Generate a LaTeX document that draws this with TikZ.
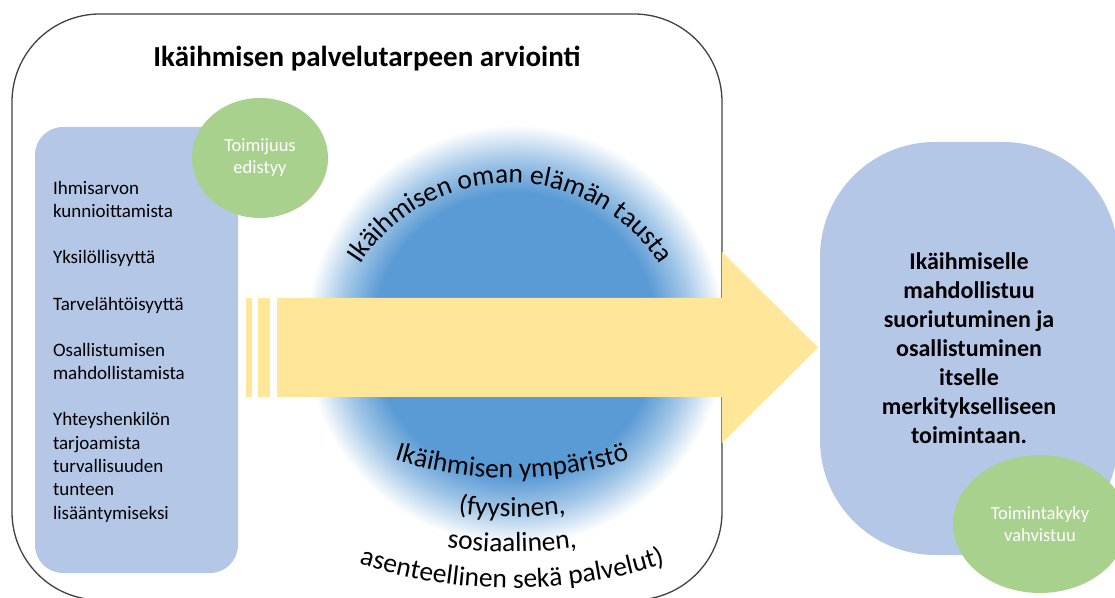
\documentclass[tikz,border=0pt]{standalone}
\usepackage{fontspec}
\setmainfont{Carlito}
\usepackage{tikz}
\usetikzlibrary{shapes.geometric,decorations.text,positioning}
\definecolor{boxblue}{HTML}{B4C7E7}
\definecolor{leafgreen}{HTML}{A9D18E}
\definecolor{discblue}{HTML}{5B9BD5}
\definecolor{arrowyellow}{HTML}{FFE699}
\pgfdeclareradialshading{bluedisc}{\pgfpoint{0bp}{0bp}}{color(0bp)=(discblue); color(17bp)=(discblue); color(21bp)=(discblue!55!white); color(25bp)=(white); color(50bp)=(white)}
\newcommand\arcfont{\fontsize{27.5}{30}\selectfont}

\begin{document}
\begin{tikzpicture}[x=1pt,y=1pt,
	bigbox/.style={draw=black!75, line width=1.3pt, rounded corners=88, minimum width=710, minimum height=586, inner sep=0},
	softbox/.style={fill=boxblue, rounded corners=#1, inner sep=0},
	leaf/.style={ellipse, fill=leafgreen, text=white, inner sep=0, align=center, font=\fontsize{18.5}{22}\selectfont},
	toparc/.style={decorate, decoration={text along path, text align=center, text={|\arcfont|#1}}},
	botarc/.style={decorate, decoration={text along path, text align=center, text={|\arcfont|#1}}}]
	\useasboundingbox (0,0) rectangle (1115,597);
	\clip (0,0) rectangle (1115,597);
	\coordinate (disc) at (515,262);
	\coordinate (topc) at (510,236);
	\coordinate (botc) at (512,507);
	\shade[shading=bluedisc] (disc) circle (210);
	\node[bigbox] (big) at (367,290) {};
	\node[anchor=base, font=\fontsize{29}{34}\selectfont\bfseries] (title) at ([yshift=-53]big.north) {Ikäihmisen palvelutarpeen arviointi};
	\node[softbox=28, minimum width=203, minimum height=446] (lbox) at (136.5,247) {};
	\node[anchor=north west, inner sep=0, align=left, font=\fontsize{19}{23.3}\selectfont] (list) at ([xshift=18,yshift=-54]lbox.north west)
		{Ihmisarvon\\kunnioittamista\\[23pt]Yksilöllisyyttä\\[23pt]Tarvelähtöisyyttä\\[23pt]Osallistumisen\\mahdollistamista\\[23pt]Yhteyshenkilön\\tarjoamista\\turvallisuuden\\tunteen\\lisääntymiseksi};
	\node[leaf, minimum width=136, minimum height=120] (agency) at (260,439) {Toimijuus\\edistyy};
	\fill[arrowyellow] (246,200) rectangle (252,299);
	\fill[arrowyellow] (258,200) rectangle (270,299);
	\fill[arrowyellow] (277,200) -- (722,200) -- (722,154) -- (818,249.5) -- (722,345) -- (722,299) -- (277,299) -- cycle;
	\node[softbox=115, minimum width=298, minimum height=413, align=center, font=\fontsize{24}{29}\selectfont\bfseries] (rbox) at (969,248.5)
		{Ikäihmiselle\\mahdollistuu\\suoriutuminen ja\\osallistuminen\\itselle\\merkitykselliseen\\toimintaan.};
	\node[leaf, minimum width=174, minimum height=138] (ability) at (1040,73) {Toimintakyky\\vahvistuu};
	\path[toparc={Ikäihmisen oman elämän tausta}] ([shift={(170:178)}]topc) arc[start angle=170, end angle=10, radius=178];
	\path[botarc={Ikäihmisen ympäristö}] ([shift={(235:388)}]botc) arc[start angle=235, end angle=305, radius=388];
	\path[botarc={(fyysinen,}] ([shift={(235:427)}]botc) arc[start angle=235, end angle=305, radius=427];
	\path[botarc={sosiaalinen,}] ([shift={(235:462)}]botc) arc[start angle=235, end angle=305, radius=462];
	\path[botarc={asenteellinen sekä palvelut)}] ([shift={(235:498)}]botc) arc[start angle=235, end angle=305, radius=498];
\end{tikzpicture}
\end{document}
